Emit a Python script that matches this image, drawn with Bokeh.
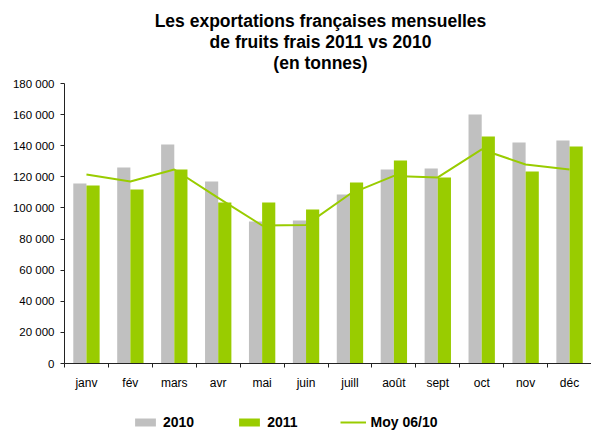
import numpy as np
from bokeh.plotting import figure
from bokeh.layouts import column
from bokeh.models import (ColumnDataSource, FixedTicker, Range1d, Label, Legend,
                          LegendItem)
from bokeh.transform import dodge
from bokeh.embed import file_html
from bokeh.resources import INLINE

months = ["janv", "fév", "mars", "avr", "mai", "juin", "juill", "août", "sept", "oct", "nov", "déc"]
v2010 = [115700, 126000, 140800, 117000, 91300, 91900, 108600, 124700, 125400, 160100, 142100, 143400]
v2011 = [114400, 111900, 124700, 103500, 103500, 99000, 116400, 130500, 119600, 145900, 123400, 139500]
moy = [121500, 117000, 124700, 106500, 88700, 89100, 109000, 120600, 119600, 137600, 127900, 124700]
y_ticks = [0, 20000, 40000, 60000, 80000, 100000, 120000, 140000, 160000, 180000]
title_lines = ["Les exportations françaises mensuelles", "de fruits frais 2011 vs 2010", "(en tonnes)"]
legend_labels = ["2010", "2011", "Moy 06/10"]

FONT = "Liberation Sans"
GRAY = "#C0C0C0"
GREEN = "#99CC00"
AX = "#222222"
W = 591
LEFT = 64  # frame left edge (frames are aligned across the column)

xc = [i + 0.5 for i in range(len(months))]
src = ColumnDataSource(dict(x=xc, v2010=v2010, v2011=v2011, moy=moy))

# ---------- title strip ----------
pt = figure(width=W, height=75, output_backend="svg", toolbar_location=None,
            x_axis_location=None, y_axis_location=None,
            min_border=0, min_border_left=LEFT, x_range=Range1d(0, 1), y_range=Range1d(0, 1))
pt.outline_line_color = None
pt.grid.visible = False
for i, t in enumerate(title_lines):
    pt.add_layout(Label(x=320 - LEFT, y=55 - 21 * i, x_units="screen", y_units="screen", text=t,
                        text_font=FONT, text_font_style="bold", text_font_size="17.5px",
                        text_align="center", text_baseline="middle", text_color="black"))

# ---------- main chart ----------
p = figure(width=W, height=330, output_backend="svg", toolbar_location=None,
           x_range=Range1d(0, len(months)), y_range=Range1d(0, 180000),
           min_border_left=LEFT, min_border_right=0, min_border_top=8, min_border_bottom=42)
p.outline_line_color = None
p.grid.grid_line_color = None

p.vbar(x=dodge("x", -0.15, range=p.x_range), top="v2010", width=0.3, source=src,
       fill_color=GRAY, line_color=None)
p.vbar(x=dodge("x", 0.15, range=p.x_range), top="v2011", width=0.3, source=src,
       fill_color=GREEN, line_color=None)
p.line(x="x", y="moy", source=src, line_color=GREEN, line_width=2)

xa = p.xaxis[0]
xa.ticker = FixedTicker(ticks=xc, minor_ticks=list(range(len(months) + 1)))
xa.major_label_overrides = {x: m for x, m in zip(xc, months)}
xa.major_tick_line_color = None
xa.minor_tick_in = 0
xa.minor_tick_out = 4
xa.minor_tick_line_color = AX
xa.axis_line_color = AX
xa.major_label_text_font = FONT
xa.major_label_text_font_size = "12px"
xa.major_label_text_color = "black"
xa.major_label_standoff = 6

ya = p.yaxis[0]
ya.ticker = FixedTicker(ticks=y_ticks)
ya.major_label_overrides = {t: f"{t:,}".replace(",", " ") for t in y_ticks}
ya.minor_tick_line_color = None
ya.major_tick_in = 0
ya.major_tick_out = 4
ya.major_tick_line_color = AX
ya.axis_line_color = AX
ya.major_label_text_font = FONT
ya.major_label_text_font_size = "11.5px"
ya.major_label_text_color = "black"
ya.major_label_standoff = 6

# ---------- legend strip (legend swatches only; series kept out of view) ----------
pl = figure(width=W, height=25, output_backend="svg", toolbar_location=None,
            x_axis_location=None, y_axis_location=None,
            min_border=0, min_border_left=LEFT,
            x_range=Range1d(0, len(months)), y_range=Range1d(-1000, -999))
pl.outline_line_color = None
pl.grid.visible = False
g1 = pl.vbar(x="x", top="v2010", width=0, source=src, fill_color=GRAY, line_color=None)
g2 = pl.vbar(x="x", top="v2011", width=0, source=src, fill_color=GREEN, line_color=None)
g3 = pl.line(x="x", y="moy", source=src, line_color=GREEN, line_width=2)
legend = Legend(items=[LegendItem(label=legend_labels[0], renderers=[g1]),
                       LegendItem(label=legend_labels[1], renderers=[g2]),
                       LegendItem(label=legend_labels[2], renderers=[g3])],
                orientation="horizontal", location=(132 - LEFT, 0),
                glyph_width=26, glyph_height=10, label_height=14, label_standoff=5,
                spacing=42, padding=0, margin=0,
                label_text_font=FONT, label_text_font_style="bold", label_text_font_size="14px",
                label_text_color="black",
                border_line_alpha=0, background_fill_alpha=0)
pl.add_layout(legend, "center")

layout = column(pt, p, pl, spacing=0)
open("out.html", "w").write(file_html(layout, INLINE))
